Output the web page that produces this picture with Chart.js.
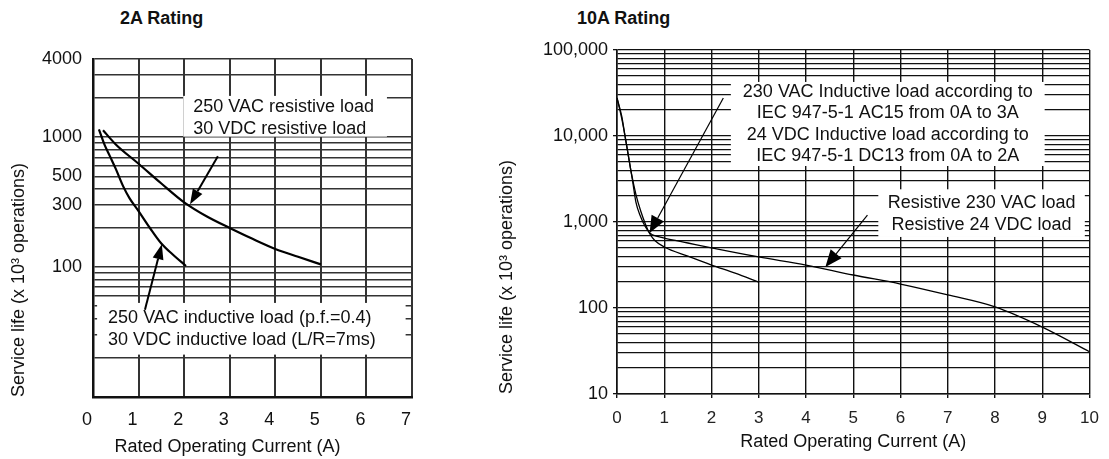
<!DOCTYPE html>
<html>
<head>
<meta charset="utf-8">
<script src="https://cdn.jsdelivr.net/npm/chart.js@4.4.1/dist/chart.umd.min.js"></script>
<style>
  html, body { margin: 0; padding: 0; background: #fff; }
  body { width: 1109px; height: 459px; position: relative; overflow: hidden; font-family: "Liberation Sans", Arial, sans-serif; }
  .rating { position: absolute; top: 7px; font-weight: bold; font-size: 18px; line-height: 22px; color: #111; }
  #wrap2A { position: absolute; left: 0; top: 0; }
  #wrap10A { position: absolute; left: 490px; top: 0; }
</style>
</head>
<body>
<div class="rating" style="left:120px">2A Rating</div>
<div class="rating" style="left:577px">10A Rating</div>
<div id="wrap2A"><canvas id="chart2A" width="440" height="459"></canvas></div>
<div id="wrap10A"><canvas id="chart10A" width="619" height="459"></canvas></div>
<script>
// ===================== Data: 2A Rating =====================
const RES_2A_X = [0.22, 0.5, 1, 1.5, 2, 2.5, 3, 3.5, 4, 4.5, 5];
const RES_2A_Y = [1130, 880, 625, 440, 315, 245, 200, 165, 138, 120, 105];
const IND_2A_X = [0.13, 0.25, 0.37, 0.5, 0.66, 0.8, 1, 1.25, 1.5, 1.75, 2.04];
const IND_2A_Y = [1150, 880, 715, 570, 420, 340, 270, 200, 152, 125, 102];

const GRID_2A = [10, 20, 30, 40, 50, 60, 70, 80, 90, 100, 200, 300, 400, 500, 600, 700, 800, 900, 1000, 2000, 3000, 4000];
const LABELS_2A = [100, 300, 500, 1000, 4000];

// ===================== Data: 10A Rating =====================
const RES_10A_X = [0, 0.1, 0.17, 0.25, 0.33, 0.4, 0.5, 0.6, 0.7, 0.85, 1, 1.5, 2, 3, 4, 5, 6, 7, 8, 9, 10];
const RES_10A_Y = [27700, 17000, 10000, 5500, 3000, 1700, 1150, 880, 740, 680, 650, 570, 500, 392, 316, 242, 190, 142, 103, 60, 31];
const IND_10A_X = [0, 0.1, 0.2, 0.3, 0.4, 0.5, 0.6, 0.7, 0.8, 1, 1.5, 2, 2.5, 3];
const IND_10A_Y = [27700, 16000, 8000, 3800, 2100, 1350, 950, 720, 610, 512, 400, 316, 255, 200];

const GRID_10A = [
  10, 20, 30, 40, 50, 60, 70, 80, 90,
  100, 200, 300, 400, 500, 600, 700, 800, 900,
  1000, 2000, 3000, 4000, 5000, 6000, 7000, 8000, 9000,
  10000, 20000, 30000, 40000, 50000, 60000, 70000, 80000, 90000,
  100000,
];
const LABELS_10A = [10, 100, 1000, 10000, 100000];

const Y_TITLE = "Service life (x 10\u00B3 operations)";
const X_TITLE = "Rated Operating Current (A)";

// ===================== Helpers =====================
function toPoints(xs, ys) {
  return xs.map((x, i) => ({ x, y: ys[i] }));
}

function drawArrow(ctx, fx, fy, tx, ty, len, half, width) {
  const ang = Math.atan2(ty - fy, tx - fx);
  const bx = tx - Math.cos(ang) * len;
  const by = ty - Math.sin(ang) * len;
  ctx.lineWidth = width;
  ctx.beginPath();
  ctx.moveTo(fx, fy);
  ctx.lineTo(bx, by);
  ctx.stroke();
  ctx.beginPath();
  ctx.moveTo(tx, ty);
  ctx.lineTo(bx + Math.sin(ang) * half, by - Math.cos(ang) * half);
  ctx.lineTo(bx - Math.sin(ang) * half, by + Math.cos(ang) * half);
  ctx.closePath();
  ctx.fill();
}

// label boxes (white, hide grid) + arrows pointing at the curves
const notesPlugin = {
  id: "notes",
  beforeDatasetsDraw(chart, args, opts) {
    const { ctx } = chart;
    const { x, y } = chart.scales;
    (opts.boxes || []).forEach((b) => {
      const x0 = x.getPixelForValue(b.x[0]);
      const x1 = x.getPixelForValue(b.x[1]);
      const y0 = y.getPixelForValue(b.y[0]);
      const y1 = y.getPixelForValue(b.y[1]);
      ctx.save();
      ctx.fillStyle = "#fff";
      ctx.fillRect(x0, y0, x1 - x0, y1 - y0);
      ctx.fillStyle = "#111";
      ctx.font = opts.font;
      ctx.textBaseline = "middle";
      ctx.textAlign = b.align;
      const tx = b.align === "center" ? (x0 + x1) / 2 : x0 + b.pad;
      b.lines.forEach((t, i) => ctx.fillText(t, tx, y0 + b.first + i * b.gap));
      ctx.restore();
    });
  },
  afterDatasetsDraw(chart, args, opts) {
    const { ctx } = chart;
    const { x, y } = chart.scales;
    ctx.save();
    ctx.strokeStyle = "#000";
    ctx.fillStyle = "#000";
    (opts.arrows || []).forEach((a) => {
      drawArrow(
        ctx,
        x.getPixelForValue(a.from[0]), y.getPixelForValue(a.from[1]),
        x.getPixelForValue(a.to[0]), y.getPixelForValue(a.to[1]),
        opts.head[0], opts.head[1], opts.arrowWidth
      );
    });
    ctx.restore();
  },
};

// ===================== 2A Rating chart =====================
new Chart(document.getElementById("chart2A"), {
  type: "line",
  data: {
    datasets: [
      { label: "250 VAC / 30 VDC resistive load", data: toPoints(RES_2A_X, RES_2A_Y) },
      { label: "250 VAC / 30 VDC inductive load", data: toPoints(IND_2A_X, IND_2A_Y) },
    ],
  },
  options: {
    responsive: false,
    animation: false,
    events: [],
    layout: { padding: { left: 0, top: 59, right: 28, bottom: 0 } },
    elements: {
      point: { radius: 0 },
      line: { borderColor: "#000", borderWidth: 2.2, tension: 0.4, cubicInterpolationMode: "monotone", fill: false },
    },
    plugins: {
      legend: { display: false },
      tooltip: { enabled: false },
      notes: {
        font: '18px "Liberation Sans", Arial, sans-serif',
        head: [15, 5.5],
        arrowWidth: 2,
        boxes: [
          { x: [1.98, 6.45], y: [2080, 1010], align: "left", pad: 10, first: 11, gap: 22,
            lines: ["250 VAC resistive load", "30 VDC resistive load"] },
          { x: [0.09, 6.86], y: [53, 21.2], align: "left", pad: 11, first: 15, gap: 22,
            lines: ["250 VAC inductive load (p.f.=0.4)", "30 VDC inductive load (L/R=7ms)"] },
        ],
        arrows: [
          { from: [2.74, 714], to: [2.13, 305] },
          { from: [1.14, 47], to: [1.51, 150] },
        ],
      },
    },
    scales: {
      x: {
        type: "linear",
        min: 0,
        max: 7,
        afterFit: (s) => { s.height = 62; },
        ticks: { stepSize: 1, padding: 12, labelOffset: -6, color: "#111", font: { size: 18, family: "Liberation Sans" } },
        grid: { color: "#333", lineWidth: 2, drawTicks: false },
        border: { color: "#111", width: 2.5 },
        // trailing spaces shift the centred title left, as in the original
        title: { display: true, text: X_TITLE + "          ", color: "#111", padding: { top: 0, bottom: 1 },
          font: { size: 18, family: "Liberation Sans" } },
      },
      y: {
        type: "logarithmic",
        min: 10,
        max: 4000,
        afterFit: (s) => { s.width = 93; },
        afterBuildTicks: (s) => { s.ticks = GRID_2A.map((v) => ({ value: v })); },
        ticks: {
          autoSkip: false,
          padding: 11,
          color: "#111",
          font: { size: 18, family: "Liberation Sans" },
          callback: (v) => (LABELS_2A.includes(v) ? String(v) : ""),
        },
        grid: { color: "#333", lineWidth: 1.6, drawTicks: false },
        border: { color: "#111", width: 2.5 },
        title: { display: true, text: Y_TITLE, align: "start", color: "#111", padding: { top: 8, bottom: 0 },
          font: { size: 18, family: "Liberation Sans" } },
      },
    },
  },
  plugins: [notesPlugin],
});

// ===================== 10A Rating chart =====================
new Chart(document.getElementById("chart10A"), {
  type: "line",
  data: {
    datasets: [
      { label: "Resistive 230 VAC / 24 VDC load", data: toPoints(RES_10A_X, RES_10A_Y) },
      { label: "230 VAC / 24 VDC inductive load", data: toPoints(IND_10A_X, IND_10A_Y) },
    ],
  },
  options: {
    responsive: false,
    animation: false,
    events: [],
    layout: { padding: { left: 0, top: 50, right: 11, bottom: 0 } },
    elements: {
      point: { radius: 0 },
      line: { borderColor: "#000", borderWidth: 1.3, tension: 0.4, cubicInterpolationMode: "monotone", fill: false },
    },
    plugins: {
      legend: { display: false },
      tooltip: { enabled: false },
      notes: {
        font: '18px "Liberation Sans", Arial, sans-serif',
        head: [17, 7],
        arrowWidth: 1.2,
        boxes: [
          { x: [2.41, 9.05], y: [42500, 4480], align: "center", first: 10, gap: 21.4,
            lines: [
              "230 VAC Inductive load according to",
              "IEC 947-5-1 AC15 from 0A to 3A",
              "24 VDC Inductive load according to",
              "IEC 947-5-1 DC13 from 0A to 2A",
            ] },
          { x: [5.53, 9.9], y: [2400, 670], align: "center", first: 14, gap: 22,
            lines: ["Resistive 230 VAC load", "Resistive 24 VDC load"] },
        ],
        arrows: [
          { from: [2.25, 27700], to: [0.69, 745] },
          { from: [5.3, 1200], to: [4.41, 300] },
        ],
      },
    },
    scales: {
      x: {
        type: "linear",
        min: 0,
        max: 10,
        afterFit: (s) => { s.height = 65; },
        ticks: { stepSize: 1, padding: 10, color: "#222", font: { size: 17, family: "Liberation Sans" } },
        grid: { color: "#111", lineWidth: 1.4, drawTicks: true, tickLength: 4 },
        border: { color: "#111", width: 1.6 },
        title: { display: true, text: X_TITLE, color: "#111", padding: { top: 0, bottom: 6 },
          font: { size: 18, family: "Liberation Sans" } },
      },
      y: {
        type: "logarithmic",
        min: 10,
        max: 100000,
        afterFit: (s) => { s.width = 127; },
        afterBuildTicks: (s) => { s.ticks = GRID_10A.map((v) => ({ value: v })); },
        ticks: {
          autoSkip: false,
          padding: 5,
          color: "#111",
          font: { size: 18, family: "Liberation Sans" },
          callback: (v) => (LABELS_10A.includes(v) ? v.toLocaleString("en-US") : ""),
        },
        grid: {
          color: "#111",
          lineWidth: 1.3,
          drawTicks: true,
          tickLength: 4,
          tickColor: (c) => (c.tick && LABELS_10A.includes(c.tick.value) ? "#111" : "rgba(0,0,0,0)"),
        },
        border: { color: "#111", width: 1.6 },
        title: { display: true, text: Y_TITLE, align: "start", color: "#111", padding: { top: 6, bottom: 0 },
          font: { size: 18, family: "Liberation Sans" } },
      },
    },
  },
  plugins: [notesPlugin],
});
</script>
</body>
</html>
